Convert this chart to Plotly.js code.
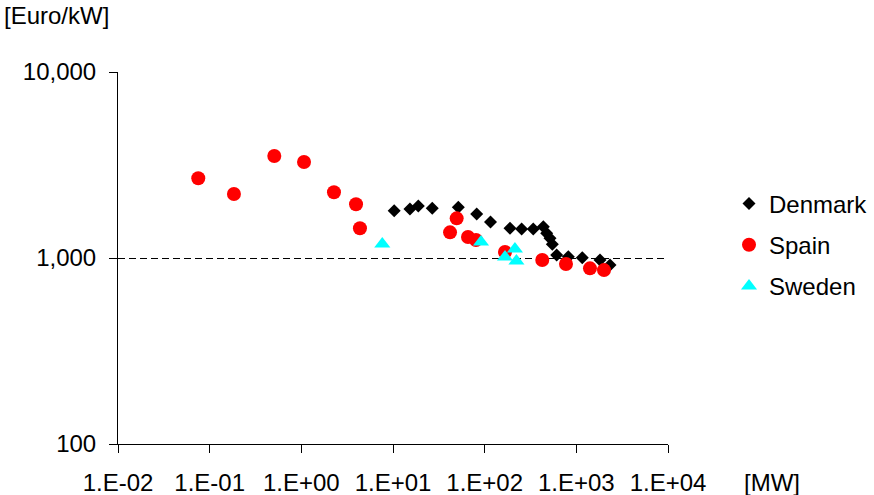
<!DOCTYPE html>
<html>
<head>
<meta charset="utf-8">
<script src="https://cdn.plot.ly/plotly-3.0.1.min.js"></script>
<style>html,body{margin:0;padding:0;background:#fff;}#chart{width:874px;height:495px;}</style>
</head>
<body>
<div id="chart"></div>
<script>
// Denmark
const denmarkMW   = [10.3, 15.3, 18.9, 26.8, 51.6, 81.8, 115.8, 189, 253, 339, 436, 475, 516, 547, 610, 817, 1161, 1812, 2329];
const denmarkCost = [1796, 1833, 1906, 1851, 1874, 1726, 1563, 1446, 1432, 1432, 1472, 1359, 1276, 1186, 1038, 1016, 1004, 976, 916];
// Spain
const spainMW   = [0.0751, 0.184, 0.507, 1.07, 2.27, 3.95, 4.36, 49.5, 41.9, 65.8, 80.4, 166.6, 425, 771, 1409, 2003];
const spainCost = [2683, 2208, 3532, 3281, 2256, 1945, 1446, 1634, 1374, 1298, 1250, 1077, 976, 929, 880, 861];
// Sweden
const swedenMW   = [7.64, 91.2, 166.6, 214, 222];
const swedenCost = [1189, 1219, 1012, 1117, 963];

const xTickVals = [0.01, 0.1, 1, 10, 100, 1000, 10000];
const xTickText = ["1.E-02", "1.E-01", "1.E+00", "1.E+01", "1.E+02", "1.E+03", "1.E+04"];
const yTickVals = [100, 1000, 10000];
const yTickText = ["100", "1,000", "10,000"];
const refLine = [1000];

const FONT = "Liberation Sans, Arial, sans-serif";

const traces = [
  {x: denmarkMW, y: denmarkCost, name: "Denmark", type: "scatter", mode: "markers", legendgroup: "a",
   marker: {symbol: "diamond", size: 10, color: "#000000"}},
  {x: spainMW, y: spainCost, name: "Spain", type: "scatter", mode: "markers", legendgroup: "b",
   marker: {symbol: "circle", size: 14, color: "#ff0000"}},
  {x: swedenMW, y: swedenCost, name: "Sweden", type: "scatter", mode: "markers", legendgroup: "c",
   marker: {symbol: "triangle-up", size: 14, color: "#00ffff"}}
];

const layout = {
  width: 874, height: 495,
  paper_bgcolor: "#ffffff", plot_bgcolor: "#ffffff",
  margin: {l: 118, r: 206, t: 72, b: 51, pad: 0, autoexpand: false},
  font: {family: FONT, size: 24, color: "#000000"},
  showlegend: true,
  legend: {xref: "container", yref: "container", x: 729/874, y: 1 - 245/495, xanchor: "left", yanchor: "middle",
           traceorder: "grouped", tracegroupgap: 7,
           font: {family: FONT, size: 24, color: "#000"}, bgcolor: "rgba(0,0,0,0)"},
  xaxis: {type: "log", range: [-2, 4], tickvals: xTickVals, ticktext: xTickText, automargin: false,
          showgrid: false, zeroline: false, showline: true, linecolor: "#000", linewidth: 1,
          ticks: "outside", ticklen: 8, tickcolor: "#000", tickwidth: 1, ticklabelstandoff: 9,
          tickfont: {family: FONT, size: 24, color: "#000"}},
  yaxis: {type: "log", range: [2, 4], tickvals: yTickVals, ticktext: yTickText, automargin: false,
          showgrid: false, zeroline: false, showline: true, linecolor: "#000", linewidth: 1,
          ticks: "outside", ticklen: 8, tickcolor: "#000", tickwidth: 1, ticklabelstandoff: 8,
          tickfont: {family: FONT, size: 24, color: "#000"}},
  yaxis2: {type: "log", range: [2, 4], overlaying: "y", side: "left", automargin: false,
           tickvals: refLine, showticklabels: false, ticks: "", showline: false, zeroline: false,
           showgrid: true, gridcolor: "#000", gridwidth: 1, griddash: "7px,4px", layer: "below traces"},
  annotations: [
    {text: "[Euro/kW]", xref: "paper", yref: "paper", x: -116/550, y: 1 + 56/372, xanchor: "left", yanchor: "middle",
     showarrow: false, font: {family: FONT, size: 24, color: "#000"}},
    {text: "[MW]", xref: "paper", yref: "paper", x: (772-118)/550, y: -39/372, xanchor: "center", yanchor: "middle",
     showarrow: false, font: {family: FONT, size: 24, color: "#000"}}
  ]
};

// invisible helper trace so yaxis2 (carrying the dashed 1,000 reference line) is drawn
traces.push({x: [], y: [], yaxis: "y2", type: "scatter", mode: "markers", showlegend: false, hoverinfo: "skip"});

Plotly.newPlot("chart", traces, layout, {displayModeBar: false, staticPlot: true});
</script>
</body>
</html>
